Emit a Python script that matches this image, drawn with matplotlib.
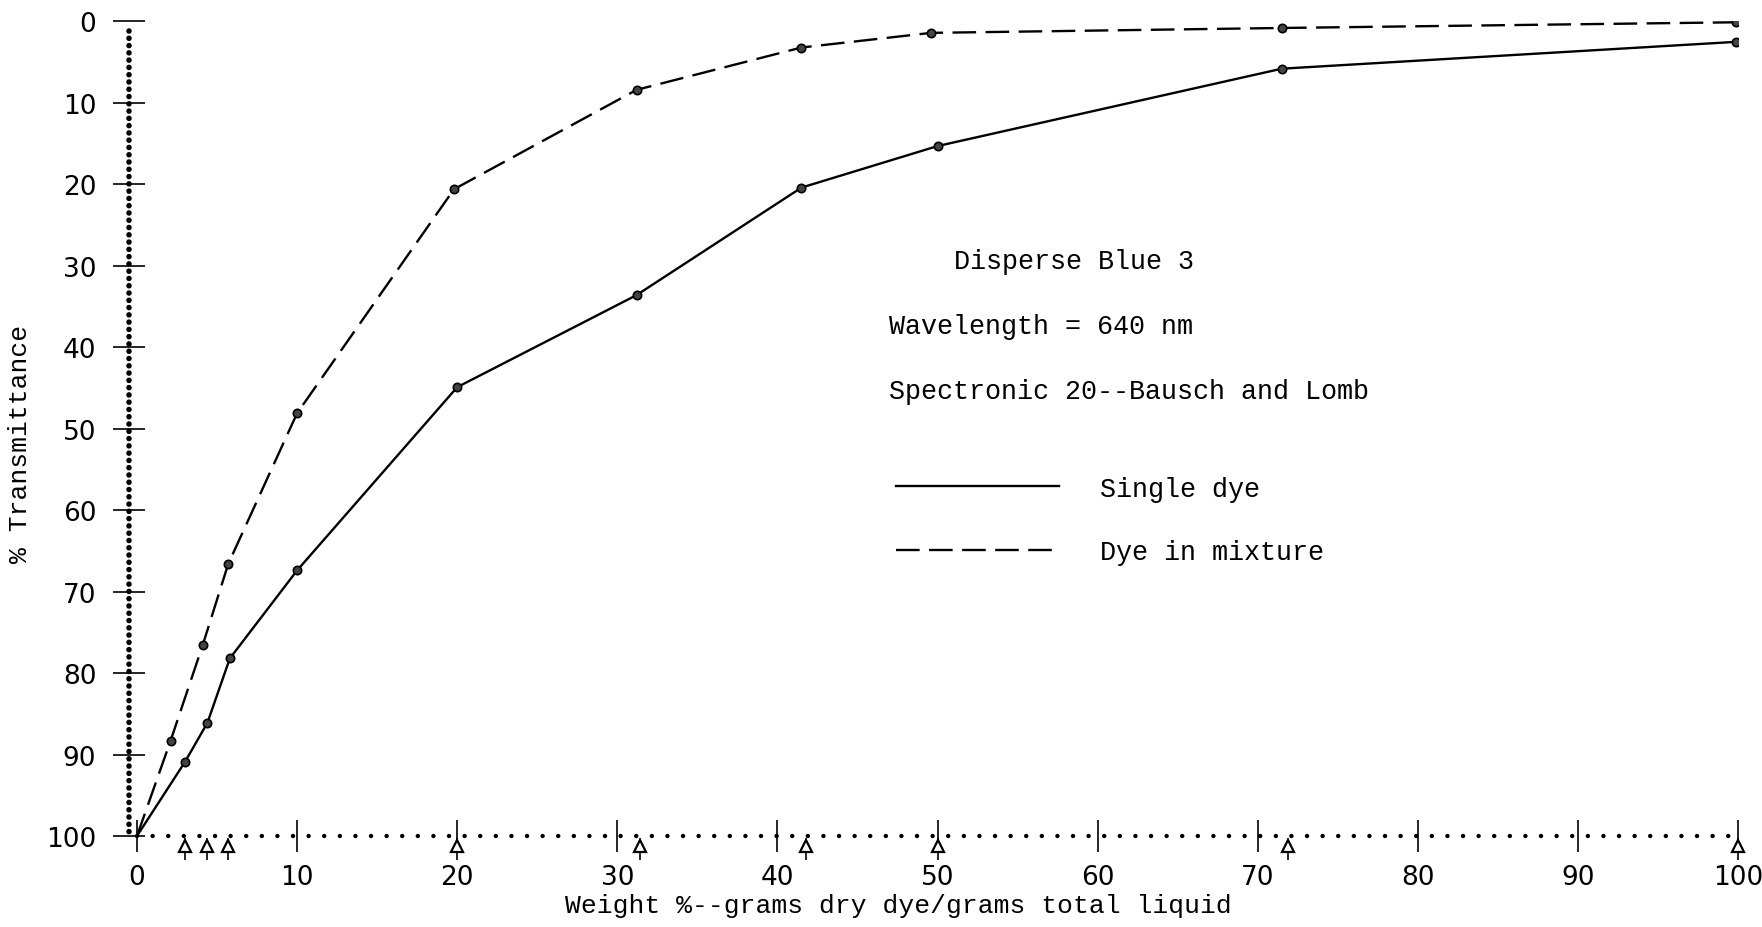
import numpy as np
import matplotlib
matplotlib.use('Agg')
import matplotlib.pyplot as plt

# weight % dye vs % transmittance (y axis inverted)
single_x = [0, 3, 4.4, 5.8, 10, 20, 31.2, 41.5, 50, 71.5, 99.9]
single_y = [100, 90.9, 86.1, 78.2, 67.4, 44.9, 33.6, 20.4, 15.3, 5.8, 2.5]

mix_x = [0, 2.1, 4.1, 5.7, 10, 19.8, 31.2, 41.5, 49.6, 71.5, 99.9]
mix_y = [100, 88.3, 76.6, 66.6, 48.1, 20.6, 8.4, 3.2, 1.4, 0.8, 0.1]

# little arrows drawn under the x axis at the sample concentrations
arrow_x = [3, 4.4, 5.7, 20, 31.4, 41.8, 50, 71.9, 100]

xticks = [0, 10, 20, 30, 40, 50, 60, 70, 80, 90, 100]
yticks = [0, 10, 20, 30, 40, 50, 60, 70, 80, 90, 100]

mono = 'Liberation Mono'
x_left = -0.5   # the dotted y axis sits a hair left of the origin

fig = plt.figure(figsize=(17.62, 9.28), dpi=100)
ax = fig.add_axes([0.0732, 0.0981, 0.9132, 0.8777])

# curves
ax.plot(single_x, single_y, color='black', lw=1.7, label='Single dye')
ax.plot(mix_x, mix_y, color='black', lw=1.7, dashes=(10, 4), label='Dye in mixture')
ax.plot(single_x[1:], single_y[1:], 'o', ms=6, mfc='#444444', mec='black', mew=1.2)
ax.plot(mix_x[1:], mix_y[1:], 'o', ms=6, mfc='#444444', mec='black', mew=1.2)

# dotted axes
ax.plot([x_left, x_left], [1.2, 100], color='black', lw=4, linestyle=(0, (0.01, 1.3)),
        dash_capstyle='round', clip_on=False, zorder=1)
ax.plot([0, 100], [100, 100], color='black', lw=3.2, linestyle=(0, (0.01, 3.5)),
        dash_capstyle='round', clip_on=False, zorder=1)

# arrows under the axis
ax.vlines(arrow_x, 100.3, 103, color='black', lw=1.2, clip_on=False)
ax.plot(arrow_x, [101.2] * len(arrow_x), '^', ms=8, mfc='white', mec='black',
        mew=1.6, clip_on=False)

ax.set_xlim(x_left, 100)
ax.set_ylim(100, 0)
for s in ax.spines.values():
    s.set_visible(False)

ax.set_xticks(xticks)
ax.set_yticks(yticks)
ax.tick_params(axis='x', direction='inout', length=23, width=1.2, labelsize=19, pad=9)
ax.tick_params(axis='y', direction='inout', length=23, width=1.2, labelsize=19, pad=12)

ax.set_xlabel('Weight %--grams dry dye/grams total liquid', fontfamily=mono, fontsize=19)
ax.xaxis.set_label_coords(0.478, -0.070)
ax.set_ylabel('% Transmittance', fontfamily=mono, fontsize=19)
ax.yaxis.set_label_coords(-0.060, 0.4825)

# annotations
ax.text(51, 29.4, 'Disperse Blue 3', fontfamily=mono, fontsize=19.3, va='center')
ax.text(47, 37.4, 'Wavelength = 640 nm', fontfamily=mono, fontsize=19.3, va='center')
ax.text(47, 45.4, 'Spectronic 20--Bausch and Lomb', fontfamily=mono, fontsize=19.3, va='center')

leg = ax.legend(loc='upper left', bbox_to_anchor=(0.5085, 0.4865),
                bbox_transform=fig.transFigure, frameon=False,
                prop={'family': mono, 'size': 19.3}, handlelength=6.1,
                handletextpad=1.5, labelspacing=1.4, borderpad=0, borderaxespad=0)

fig.savefig('out.png', dpi=100)
